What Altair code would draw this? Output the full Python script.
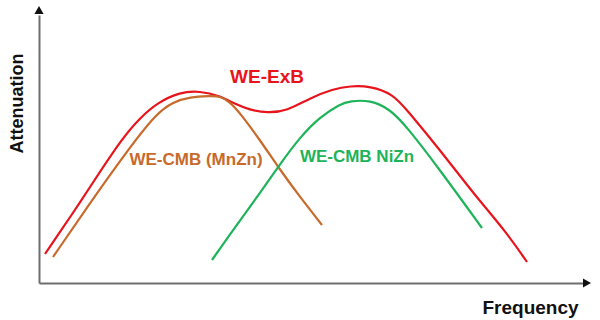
import altair as alt
import pandas as pd

# Values (frequency, attenuation in arbitrary units)
exb_f = [6, 34, 51, 84, 101, 118, 141, 161, 181, 194, 211, 228, 248, 271, 294, 311, 331, 354, 368, 401, 434, 468, 488]
exb_a = [29, 70, 96, 146, 165, 180, 191, 192, 187, 180, 173, 170, 172, 185, 194, 197, 197, 189, 173, 133, 90, 50, 21]

mnzn_f = [14, 51, 91, 118, 134, 151, 171, 181, 191, 201, 221, 239, 261, 283]
mnzn_a = [26, 80, 136, 170, 181, 186, 187, 187, 181, 170, 143, 116, 86, 58]

nizn_f = [173, 194, 221, 239, 261, 281, 301, 311, 331, 351, 368, 401, 443]
nizn_a = [23, 53, 90, 116, 146, 166, 179, 182, 183, 174, 156, 113, 55]

series_names = ["WE-ExB", "WE-CMB (MnZn)", "WE-CMB NiZn"]
series_colors = ["#e8141c", "#c86a2a", "#1fb35a"]

label_text = ["WE-ExB", "WE-CMB (MnZn)", "WE-CMB NiZn"]
label_f = [228, 157, 318]
label_a = [206, 123, 126]

rows = []
for name, fs, As in zip(series_names, [exb_f, mnzn_f, nizn_f], [exb_a, mnzn_a, nizn_a]):
    for i, (f, a) in enumerate(zip(fs, As)):
        rows.append({"series": name, "f": f, "a": a, "order": i})
df = pd.DataFrame(rows)
labels = pd.DataFrame({"text": label_text, "f": label_f, "a": label_a, "series": series_names})

W, H = 544, 268
xs = alt.Scale(domain=[0, W], nice=False, zero=False)
ys = alt.Scale(domain=[0, H], nice=False, zero=False)
cs = alt.Scale(domain=series_names, range=series_colors)

xaxis = alt.Axis(
    title="Frequency", ticks=False, labels=False, grid=False,
    domainColor="#6e6e6e", domainWidth=2,
    titleFont="Liberation Sans", titleFontSize=19, titleFontWeight="bold", titleColor="#111111",
    titleX=491, titleY=24, titleAlign="center", titleBaseline="middle", titleAnchor="start",
)
yaxis = alt.Axis(
    title="Attenuation", ticks=False, labels=False, grid=False,
    domainColor="#6e6e6e", domainWidth=2,
    titleFont="Liberation Sans", titleFontSize=18, titleFontWeight="bold", titleColor="#111111",
    titleX=-22, titleY=88, titleAngle=270, titleAlign="center", titleBaseline="middle", titleAnchor="start",
)

lines = alt.Chart(df).mark_line(interpolate="basis", strokeWidth=2.2).encode(
    x=alt.X("f:Q", scale=xs, axis=xaxis),
    y=alt.Y("a:Q", scale=ys, axis=yaxis),
    color=alt.Color("series:N", scale=cs, legend=None),
    detail="series:N",
    order="order:Q",
)

texts = alt.Chart(labels).mark_text(
    font="Liberation Sans", fontWeight="bold", fontSize=17, align="center", baseline="middle"
).encode(
    x=alt.X("f:Q", scale=xs),
    y=alt.Y("a:Q", scale=ys),
    text="text:N",
    color=alt.Color("series:N", scale=cs, legend=None),
)
ex_text = texts.transform_filter(alt.datum.series == "WE-ExB").mark_text(
    font="Liberation Sans", fontWeight="bold", fontSize=19, align="center", baseline="middle"
)
other_text = texts.transform_filter(alt.datum.series != "WE-ExB")

arrow_up = alt.Chart(pd.DataFrame({"k": [0]})).mark_point(
    shape="triangle-up", filled=True, color="#111111", size=85, opacity=1
).encode(x=alt.value(0), y=alt.value(-5))
arrow_right = alt.Chart(pd.DataFrame({"k": [0]})).mark_point(
    shape="triangle-right", filled=True, color="#111111", size=85, opacity=1
).encode(x=alt.value(W + 4), y=alt.value(H))

chart = alt.layer(lines, ex_text, other_text, arrow_up, arrow_right).properties(
    width=W, height=H,
    autosize=alt.AutoSizeParams(type="none"),
    padding={"left": 39, "top": 15, "right": 17, "bottom": 37},
    background="white",
).configure_view(stroke=None)

chart.save("out.html", embed_options={"renderer": "svg", "actions": False})
